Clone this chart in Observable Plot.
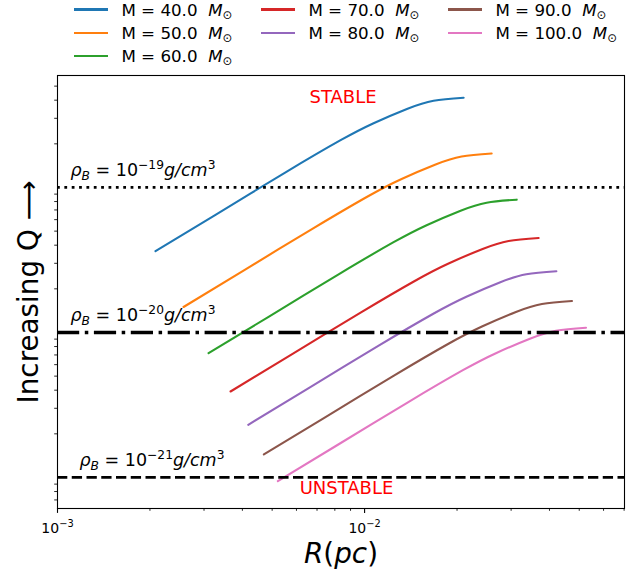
<!DOCTYPE html>
<html>
<head>
<meta charset="utf-8">
<script src="https://cdn.jsdelivr.net/npm/d3@7"></script>
<script src="https://cdn.jsdelivr.net/npm/@observablehq/plot@0.6"></script>
<style>
  body { margin: 0; background: #fff; font-family: "DejaVu Sans", sans-serif; }
  #wrap { width: 641px; }
  #legend { position: relative; width: 641px; height: 66px; }
  .item { position: absolute; display: flex; align-items: center; height: 20px; font-size: 16.7px; white-space: nowrap; color: #000; }
  .sw { display: inline-block; width: 34px; height: 2.1px; }
  .lab { margin-left: 13.4px; }
  .lab i { font-style: italic; }
  .lab sub { font-size: 0.7em; vertical-align: -0.28em; line-height: 0; }
</style>
</head>
<body>
<div id="wrap">
  <div id="legend"></div>
  <div id="chart"></div>
</div>
<script>
// ---------------- data ----------------
const masses = [40, 50, 60, 70, 80, 90, 100];
const seriesColors = ["#1f77b4", "#ff7f0e", "#2ca02c", "#d62728", "#9467bd", "#8c564b", "#e377c2"];

const R40 = [0.002085, 0.00327, 0.005529, 0.008353, 0.010698, 0.0138, 0.01677, 0.02101];
const Q40 = [36.37, 64.82, 127.3, 212.0, 277.6, 349.5, 396.8, 416.2];
const R50 = [0.002573, 0.004034, 0.006823, 0.0103, 0.0132, 0.01703, 0.0207, 0.02593];
const Q50 = [14.99, 26.73, 52.48, 87.38, 114.5, 144.1, 163.6, 171.6];
const R60 = [0.003104, 0.004868, 0.00823, 0.01243, 0.01592, 0.02054, 0.02497, 0.03128];
const Q60 = [7.197, 12.83, 25.2, 41.95, 54.95, 69.18, 78.56, 82.4];
const R70 = [0.00366, 0.005739, 0.009705, 0.01466, 0.01877, 0.02423, 0.02944, 0.03688];
const Q70 = [3.918, 6.983, 13.71, 22.84, 29.92, 37.66, 42.76, 44.84];
const R80 = [0.00418, 0.006556, 0.01108, 0.01674, 0.02145, 0.02767, 0.03363, 0.04212];
const Q80 = [2.309, 4.116, 8.082, 13.46, 17.63, 22.19, 25.2, 26.42];
const R90 = [0.004699, 0.007369, 0.01246, 0.01882, 0.02411, 0.0311, 0.0378, 0.04735];
const Q90 = [1.441, 2.568, 5.043, 8.397, 11.0, 13.85, 15.72, 16.49];
const R100 = [0.005219, 0.008185, 0.01384, 0.0209, 0.02677, 0.03454, 0.04199, 0.05259];
const Q100 = [0.943, 1.681, 3.301, 5.495, 7.199, 9.064, 10.29, 10.79];

const rhoQ = [100, 10, 1];
const rhoExp = ["\u221219", "\u221220", "\u221221"];

const xMajor = [0.001, 0.01];
const xMinor = [0.002, 0.003, 0.004, 0.005, 0.006, 0.007, 0.008, 0.009, 0.02, 0.03, 0.04, 0.05, 0.06, 0.07];
const yMinor = [0.7, 0.8, 0.9, 2, 3, 4, 5, 6, 7, 8, 9, 20, 30, 40, 50, 60, 70, 80, 90, 200, 300, 400, 500];

// ---------------- table ----------------
const Rs = [R40, R50, R60, R70, R80, R90, R100];
const Qs = [Q40, Q50, Q60, Q70, Q80, Q90, Q100];
const rows = [];
masses.forEach((m, i) => Rs[i].forEach((r, j) => rows.push({mass: m, R: r, Q: Qs[i][j]})));

// ---------------- legend (3 columns, filled column-wise: 3, 2, 2) ----------------
const legend = document.getElementById("legend");
masses.forEach((m, k) => {
  const col = k < 3 ? 0 : k < 5 ? 1 : 2;
  const row = k < 3 ? k : k < 5 ? k - 3 : k - 5;
  const it = document.createElement("div");
  it.className = "item";
  it.style.left = (74 + col * 187) + "px";
  it.style.top = (9.5 + row * 23.3 - 10) + "px";
  it.innerHTML = `<span class="sw" style="background:${seriesColors[k]}"></span>` +
    `<span class="lab">M = ${m.toFixed(1)}&nbsp;&nbsp;<i>M</i><sub>\u2299</sub></span>`;
  legend.appendChild(it);
});

// ---------------- chart ----------------
const rhoStyles = [
  {strokeWidth: 2.78, dash: "2.78 4.58", dx: 13},
  {strokeWidth: 3.47, dash: "22.2 5.6 3.5 5.6", dx: 13},
  {strokeWidth: 2.78, dash: "10.3 4.45", dx: 22}
];

const chart = Plot.plot({
  width: 641,
  height: 511,
  marginTop: 9,
  marginBottom: 69,
  marginLeft: 57,
  marginRight: 17,
  style: {fontFamily: "'DejaVu Sans', sans-serif", background: "white", color: "black", overflow: "visible"},
  x: {type: "log", domain: [0.001, 0.0702]},
  y: {type: "log", domain: [0.611, 592]},
  color: {type: "ordinal", domain: masses, range: seriesColors},
  marks: [
    Plot.line(rows, {x: "R", y: "Q", z: "mass", stroke: "mass", strokeWidth: 2.1, curve: "natural"}),
    ...rhoQ.map((q, i) => Plot.ruleY([q], {y: d => d, stroke: "black", strokeWidth: rhoStyles[i].strokeWidth, strokeDasharray: rhoStyles[i].dash})),
    ...rhoQ.map((q, i) => Plot.text([q], {
      y: d => d, text: () => rhoExp[i], frameAnchor: "left", dx: rhoStyles[i].dx, dy: -11,
      textAnchor: "start", lineAnchor: "bottom", fontSize: 17.5, fill: "black"
    })),
    Plot.text(["STABLE"], {text: d => d, frameAnchor: "top", dx: 2, dy: 15, fill: "red", fontSize: 18}),
    Plot.text(["UNSTABLE"], {text: d => d, frameAnchor: "bottom", dx: 5.5, dy: -15, fill: "red", fontSize: 18}),
    Plot.text(["Increasing Q \u27F6"], {text: d => d, frameAnchor: "left", dx: -20, rotate: -90, lineAnchor: "bottom", textAnchor: "middle", fontSize: 27.8, fill: "black"}),
    Plot.text(["R(pc)"], {text: d => d, frameAnchor: "bottom", dy: 54, lineAnchor: "bottom", textAnchor: "middle", fontSize: 27.8, fill: "black"}),
    Plot.axisX({ticks: xMajor, tickSize: 4.9, tickPadding: 10, strokeWidth: 1.1, fontSize: 14, label: null,
      tickFormat: d => String(Math.round(Math.log10(d)))}),
    Plot.axisX({ticks: xMinor, tickSize: 2.8, strokeWidth: 0.84, fill: "none", label: null}),
    Plot.axisY({ticks: yMinor, tickSize: 2.8, strokeWidth: 0.84, fill: "none", label: null}),
    Plot.frame({stroke: "black", strokeWidth: 1.1})
  ]
});
document.getElementById("chart").appendChild(chart);

// ---------------- math-style text (sub/superscripts) ----------------
function setParts(el, parts, fs) {
  while (el.firstChild) el.removeChild(el.firstChild);
  el.style.whiteSpace = "pre";
  let cur = 0;
  for (const p of parts) {
    const ts = document.createElementNS("http://www.w3.org/2000/svg", "tspan");
    const off = p.sup ? -0.42 * fs : p.sub ? 0.22 * fs : 0;
    if (off !== cur) ts.setAttribute("dy", (off - cur).toFixed(2));
    cur = off;
    if (p.sup || p.sub) ts.setAttribute("font-size", (0.7 * fs).toFixed(2));
    if (p.it) ts.setAttribute("font-style", "italic");
    ts.textContent = p.t;
    el.appendChild(ts);
  }
}
chart.querySelectorAll('g[aria-label="x-axis tick label"] text').forEach(t => {
  const n = parseInt(t.textContent, 10);
  setParts(t, [{t: "10"}, {t: "\u2212" + Math.abs(n), sup: true}], 14);
});
chart.querySelectorAll("text").forEach(t => {
  const s = t.textContent;
  if (rhoExp.includes(s)) {
    setParts(t, [{t: "\u03C1", it: true}, {t: "B", it: true, sub: true}, {t: " = "}, {t: "10"}, {t: s, sup: true}, {t: "g/cm", it: true}, {t: "3", sup: true}], 17.5);
  } else if (s === "R(pc)") {
    setParts(t, [{t: "R", it: true}, {t: "("}, {t: "pc", it: true}, {t: ")"}], 27.8);
  }
});
</script>
</body>
</html>
